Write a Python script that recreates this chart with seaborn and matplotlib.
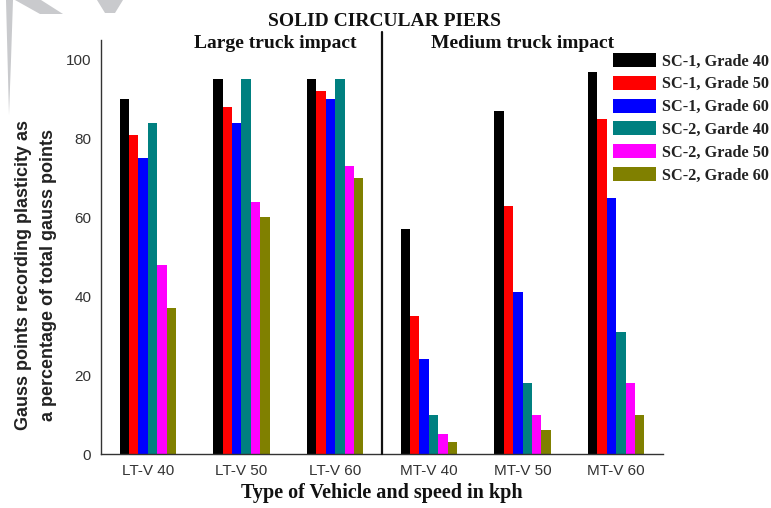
import matplotlib
matplotlib.use("Agg")
import matplotlib.pyplot as plt
from matplotlib.patches import Polygon
from matplotlib.ticker import MultipleLocator, FixedLocator
import seaborn as sns
import pandas as pd

# Vehicle / speed cases
categories = ["LT-V 40", "LT-V 50", "LT-V 60", "MT-V 40", "MT-V 50", "MT-V 60"]

# Pier configurations (legend order)
series_names = ["SC-1, Grade 40", "SC-1, Grade 50", "SC-1, Grade 60",
                "SC-2, Garde 40", "SC-2, Grade 50", "SC-2, Grade 60"]

# Gauss points recording plasticity (% of total) for each configuration
sc1_grade40 = [90, 95, 95, 57, 87, 97]
sc1_grade50 = [81, 88, 92, 35, 63, 85]
sc1_grade60 = [75, 84, 90, 24, 41, 65]
sc2_grade40 = [84, 95, 95, 10, 18, 31]
sc2_grade50 = [48, 64, 73, 5, 10, 18]
sc2_grade60 = [37, 60, 70, 3, 6, 10]

y_ticks = [0, 20, 40, 60, 80, 100]

series_values = [sc1_grade40, sc1_grade50, sc1_grade60,
                 sc2_grade40, sc2_grade50, sc2_grade60]
bar_colors = ["#000000", "#ff0000", "#0000ff", "#008080", "#ff00ff", "#808000"]

rows = []
for name, vals in zip(series_names, series_values):
    for cat, v in zip(categories, vals):
        rows.append({"case": cat, "pier": name, "value": v})
df = pd.DataFrame(rows)

sns.set_style("white")
plt.rcParams["font.family"] = ["Liberation Serif", "DejaVu Serif"]

W, H = 771, 508
fig = plt.figure(figsize=(W / 100, H / 100), dpi=100)
ax = fig.add_axes([101 / W, 54 / H, (663 - 101) / W, (454 - 40) / H])

sns.barplot(data=df, x="case", y="value", hue="pier",
            order=categories, hue_order=series_names,
            palette=bar_colors, width=0.6, gap=0, saturation=1,
            errorbar=None, linewidth=0, ax=ax)

ax.set_xlim(-0.5, 5.5)
ax.set_ylim(0, 105)

# axes styling
for side in ("top", "right"):
    ax.spines[side].set_visible(False)
for side in ("left", "bottom"):
    ax.spines[side].set_color("#333333")
    ax.spines[side].set_linewidth(1.0)

ax.yaxis.set_major_locator(FixedLocator(y_ticks))
ax.yaxis.set_minor_locator(MultipleLocator(10))
ax.xaxis.set_minor_locator(FixedLocator([0.5, 1.5, 2.5, 3.5, 4.5, 5.5]))
ax.tick_params(axis="both", which="major", direction="out", length=5,
               width=1, color="#333333", labelsize=11, labelcolor="#333333", pad=2)
ax.tick_params(axis="both", which="minor", direction="out", length=3,
               width=1, color="#555555")
for lab in ax.get_xticklabels() + ax.get_yticklabels():
    lab.set_family(["Liberation Sans", "DejaVu Sans"])

# divider between large and medium truck cases
ax.plot([2.5, 2.5], [0, 107.1], color="#111111", lw=1.6, clip_on=False, zorder=5)

ax.set_xlabel("Type of Vehicle and speed in kph", fontsize=14.5,
              fontweight="bold", color="#111111", va="center")
ax.xaxis.set_label_coords(0.5, (454 - 493) / 414)
ax.set_ylabel("Gauss points recording plasticity as\na percentage of total gauss points",
              fontsize=13, fontweight="bold", color="#222222",
              family=["Liberation Sans", "DejaVu Sans"], va="center",
              linespacing=1.6)
ax.yaxis.set_label_coords((36 - 101) / 562, (454 - 275) / 414)

fig.text(385 / W, 1 - 22 / H, "SOLID CIRCULAR PIERS", ha="center", va="center",
         fontsize=14, fontweight="bold", color="#111111")
fig.text(275 / W, 1 - 43 / H, "Large truck impact", ha="center", va="center",
         fontsize=14, fontweight="bold", color="#111111")
fig.text(523 / W, 1 - 43 / H, "Medium truck impact", ha="center", va="center",
         fontsize=14, fontweight="bold", color="#111111")

leg = ax.legend(loc="upper left", bbox_to_anchor=(613 / W, 1 - 53 / H),
                bbox_transform=fig.transFigure, frameon=False,
                prop={"family": ["Liberation Serif"], "weight": "bold", "size": 11.7},
                handlelength=2.65, handleheight=0.95, handletextpad=0.35,
                labelspacing=0.38, borderpad=0, borderaxespad=0)
for t in leg.get_texts():
    t.set_color("#222222")

# light grey decorative shapes in the top-left corner
def px_poly(pts):
    return [(x / W, 1 - y / H) for x, y in pts]

for pts in ([(6, 0), (13, 0), (11, 60), (9, 115)],
            [(15, 0), (41, 0), (63, 14), (40, 14)],
            [(97, 0), (123, 0), (115, 13), (105, 13)]):
    fig.add_artist(Polygon(px_poly(pts), closed=True, transform=fig.transFigure,
                           facecolor="#c9cacd", edgecolor="none", zorder=0))

fig.savefig("out.png", dpi=100)
